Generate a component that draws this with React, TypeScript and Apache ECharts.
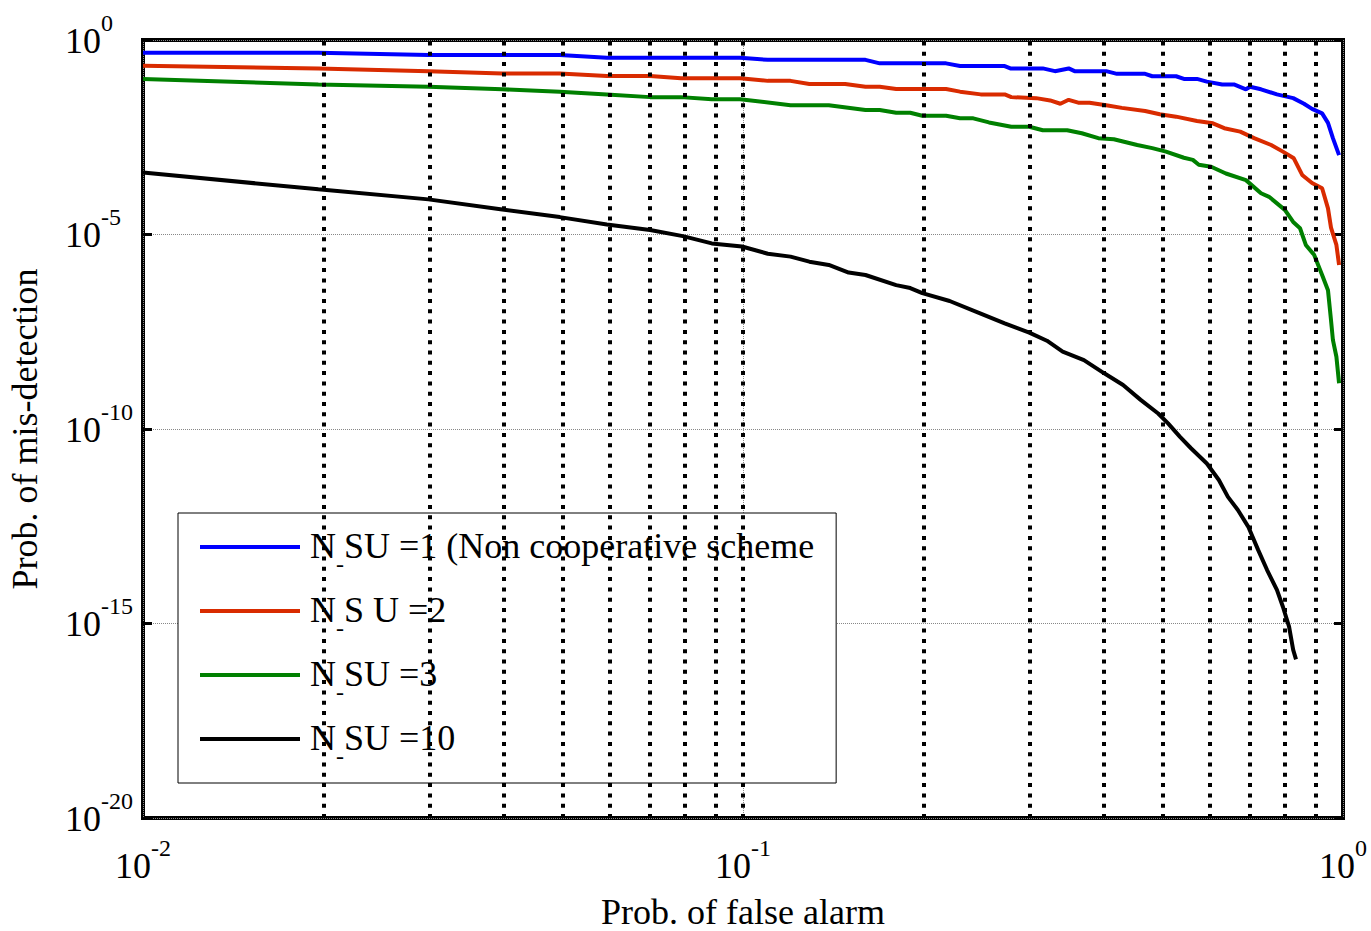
import React, { useEffect, useRef } from "react";
import * as echarts from "echarts";

const FONT = "'Liberation Serif', 'Times New Roman', serif";

const seriesNames = [
  "N_SU =1 (Non cooperative scheme",
  "N_S U =2",
  "N_SU =3",
  "N_SU =10",
];
const seriesColors = ["#0000FF", "#D92B00", "#008000", "#000000"];

const blueX = [0.01, 0.0196, 0.0299, 0.0495, 0.0593, 0.0989, 0.11, 0.16, 0.169, 0.218, 0.23, 0.273, 0.279, 0.316, 0.331, 0.349, 0.357, 0.403, 0.42, 0.468, 0.481, 0.527, 0.543, 0.571, 0.593, 0.629, 0.658, 0.689, 0.7, 0.73, 0.776, 0.826, 0.861, 0.888, 0.923, 0.944, 0.962, 0.985];
const blueY = [0.47, 0.47, 0.41, 0.41, 0.351, 0.351, 0.309, 0.309, 0.251, 0.251, 0.214, 0.214, 0.186, 0.186, 0.158, 0.186, 0.158, 0.158, 0.135, 0.135, 0.117, 0.117, 0.1, 0.1, 0.085, 0.072, 0.072, 0.054, 0.063, 0.054, 0.04, 0.032, 0.023, 0.017, 0.013, 0.0074, 0.003, 0.0011];

const redX = [0.01, 0.0196, 0.0299, 0.0397, 0.0495, 0.0593, 0.07, 0.0788, 0.0989, 0.11, 0.12, 0.129, 0.148, 0.16, 0.169, 0.18, 0.218, 0.23, 0.249, 0.273, 0.28, 0.308, 0.325, 0.338, 0.349, 0.362, 0.378, 0.403, 0.428, 0.468, 0.495, 0.527, 0.571, 0.607, 0.634, 0.674, 0.711, 0.759, 0.794, 0.828, 0.855, 0.888, 0.923, 0.944, 0.955, 0.975, 0.985];
const redY = [0.219, 0.186, 0.158, 0.138, 0.138, 0.119, 0.119, 0.104, 0.104, 0.089, 0.089, 0.074, 0.074, 0.063, 0.063, 0.055, 0.055, 0.047, 0.04, 0.04, 0.034, 0.032, 0.028, 0.023, 0.029, 0.0245, 0.0245, 0.021, 0.018, 0.015, 0.0123, 0.0107, 0.0083, 0.0072, 0.0054, 0.0044, 0.003, 0.002, 0.00135, 0.00091, 0.00034, 0.00021, 0.000155, 4.7e-5, 1.5e-5, 5.4e-6, 1.65e-6];

const greenX = [0.01, 0.0196, 0.0299, 0.0397, 0.0495, 0.0593, 0.07, 0.0788, 0.0887, 0.0989, 0.12, 0.139, 0.16, 0.169, 0.18, 0.19, 0.199, 0.218, 0.23, 0.242, 0.257, 0.28, 0.3, 0.316, 0.347, 0.367, 0.391, 0.415, 0.454, 0.481, 0.507, 0.543, 0.562, 0.575, 0.603, 0.638, 0.689, 0.73, 0.753, 0.8, 0.826, 0.848, 0.867, 0.895, 0.923, 0.944, 0.955, 0.962, 0.975, 0.985];
const greenY = [0.1, 0.072, 0.063, 0.054, 0.047, 0.04, 0.034, 0.034, 0.03, 0.03, 0.021, 0.021, 0.0158, 0.0158, 0.0135, 0.0135, 0.0113, 0.0113, 0.0097, 0.0097, 0.0076, 0.0059, 0.0059, 0.0048, 0.0048, 0.004, 0.003, 0.0028, 0.002, 0.00166, 0.00135, 0.00094, 0.00083, 0.00062, 0.00055, 0.00037, 0.00025, 0.000115, 9.3e-5, 4.3e-5, 2.1e-5, 1.45e-5, 5.4e-6, 3.0e-6, 9.1e-7, 3.7e-7, 6.3e-8, 1.95e-8, 7.2e-9, 1.5e-9];

const blackX = [0.01, 0.0196, 0.0299, 0.0397, 0.0495, 0.0593, 0.07, 0.0794, 0.0887, 0.0996, 0.11, 0.12, 0.129, 0.139, 0.15, 0.16, 0.18, 0.19, 0.199, 0.221, 0.249, 0.273, 0.3, 0.321, 0.341, 0.37, 0.4, 0.43, 0.46, 0.492, 0.511, 0.535, 0.558, 0.593, 0.621, 0.643, 0.668, 0.695, 0.722, 0.747, 0.776, 0.794, 0.813, 0.826, 0.835];
const blackY = [3.9e-4, 1.45e-4, 8.0e-5, 4.4e-5, 2.8e-5, 1.8e-5, 1.3e-5, 9.1e-6, 5.9e-6, 4.9e-6, 3.2e-6, 2.7e-6, 2.0e-6, 1.65e-6, 1.05e-6, 9.1e-7, 5.0e-7, 4.2e-7, 3.1e-7, 1.95e-7, 9.3e-8, 5.2e-8, 3.0e-8, 1.86e-8, 9.8e-9, 5.9e-9, 2.7e-9, 1.35e-9, 5.6e-10, 2.5e-10, 1.4e-10, 6.3e-11, 3.2e-11, 1.3e-11, 4.9e-12, 1.8e-12, 8.3e-13, 3.1e-13, 7.8e-14, 2.4e-14, 7.3e-15, 2.7e-15, 8.3e-16, 2.1e-16, 1.2e-16];

const minorGridX = [0.02, 0.03, 0.04, 0.05, 0.06, 0.07, 0.08, 0.09, 0.1, 0.2, 0.3, 0.4, 0.5, 0.6, 0.7, 0.8, 0.9];

const xsList = [blueX, redX, greenX, blackX];
const ysList = [blueY, redY, greenY, blackY];

const powRich = {
  b: { fontFamily: FONT, fontSize: 36, lineHeight: 38, color: "#000", padding: [12, 0, 0, 0], verticalAlign: "top" },
  p: { fontFamily: FONT, fontSize: 24, lineHeight: 24, color: "#000", verticalAlign: "top" },
};
const powFormatter = (v: number) => {
  const e = Math.round(Math.log10(v));
  return `{b|10}{p|${e}}`;
};

export default function App() {
  const ref = useRef<HTMLDivElement>(null);
  useEffect(() => {
    if (!ref.current) return;
    const chart = echarts.init(ref.current, null, { renderer: "svg" });
    const series: any[] = seriesNames.map((name, i) => ({
      name,
      type: "line",
      data: xsList[i].map((x, j) => [x, ysList[i][j]]),
      symbol: "none",
      showSymbol: false,
      color: seriesColors[i],
      lineStyle: { color: seriesColors[i], width: 4 },
      z: 3,
    }));
    series[0].markLine = {
      silent: true,
      symbol: ["none", "none"],
      label: { show: false },
      lineStyle: { color: "#000", width: 4, type: [4, 6.3] },
      data: minorGridX.map((v) => ({ xAxis: v })),
    };
    const option: any = {
      animation: false,
      backgroundColor: "#fff",
      grid: {
        left: 143, right: 28, top: 40, bottom: 113,
        outerBoundsMode: "none",
        containLabel: false,
        show: true, borderColor: "#000", borderWidth: 4, backgroundColor: "transparent",
      },
      xAxis: {
        type: "log",
        logBase: 10,
        min: 0.01,
        max: 1,
        name: "Prob. of false alarm",
        nameLocation: "middle",
        nameGap: 79,
        nameTextStyle: { fontFamily: FONT, fontSize: 36, lineHeight: 30, color: "#000" },
        axisLine: { show: false },
        axisTick: { show: false },
        axisLabel: { formatter: powFormatter, rich: powRich, margin: 18 },
        splitLine: { show: true, lineStyle: { color: "#888", width: 1, type: [1, 1] } },
      },
      yAxis: [
        {
          type: "log",
          logBase: 10,
          min: 1e-20,
          max: 1,
          interval: 5,
          name: "Prob. of mis-detection",
          nameLocation: "middle",
          nameGap: 100,
          nameTextStyle: { fontFamily: FONT, fontSize: 36, color: "#000" },
          axisLine: { show: false },
          axisTick: { show: true, inside: true, length: 9, lineStyle: { color: "#000", width: 3 } },
          axisLabel: { formatter: powFormatter, rich: powRich, margin: 78, align: "left", padding: [0, 0, 21, 0] },
          splitLine: { show: true, lineStyle: { color: "#888", width: 1, type: [1, 1] } },
        },
        {
          type: "log",
          logBase: 10,
          min: 1e-20,
          max: 1,
          interval: 5,
          position: "right",
          axisLine: { show: false },
          axisTick: { show: true, inside: true, length: 9, lineStyle: { color: "#000", width: 3 } },
          axisLabel: { show: false },
          splitLine: { show: false },
        },
      ],
      legend: {
        orient: "vertical",
        left: 178,
        top: 513,
        selectedMode: false,
        backgroundColor: "#fff",
        borderColor: "#000",
        borderWidth: 1,
        borderRadius: 0,
        padding: [15, 22, 15, 22],
        itemGap: 16,
        itemWidth: 100,
        itemHeight: 4,
        icon: "rect",
        data: seriesNames,
        formatter: (name: string) => {
          const idx = name.indexOf("_");
          return `{n|${name.slice(0, idx)}}{s|-}{n|${name.slice(idx + 1)}}`;
        },
        textStyle: {
          fontFamily: FONT,
          fontSize: 36,
          color: "#000",
          padding: [0, 0, 0, 5],
          rich: {
            n: { fontFamily: FONT, fontSize: 36, lineHeight: 38, color: "#000", verticalAlign: "top" },
            s: { fontFamily: FONT, fontSize: 24, lineHeight: 24, color: "#000", padding: [24, 0, 0, 0], verticalAlign: "top" },
          },
        },
      },
      series,
    };
    chart.setOption(option);
    return () => chart.dispose();
  }, []);
  return <div ref={ref} style={{ width: 1371, height: 931, position: "absolute", left: 0, top: 0 }} />;
}
